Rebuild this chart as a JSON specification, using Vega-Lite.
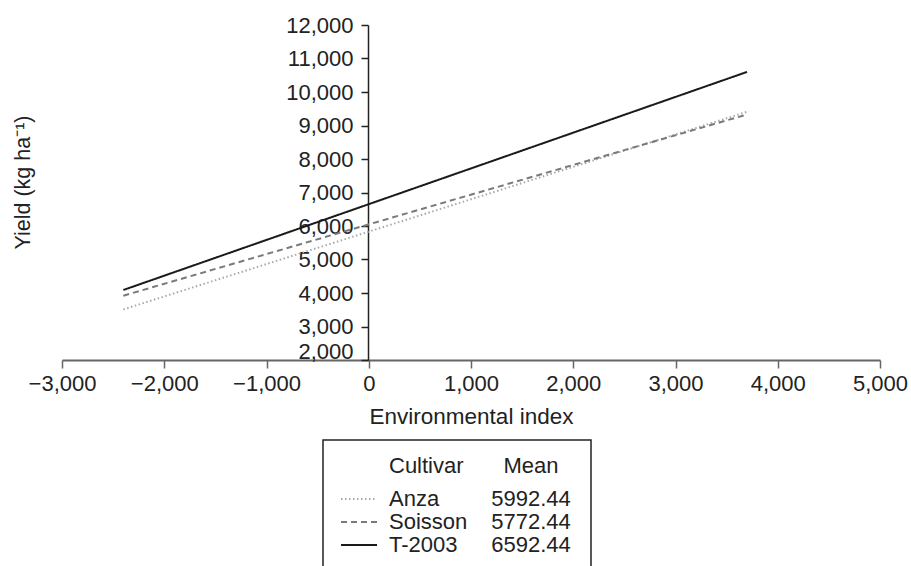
{
  "$schema": "https://vega.github.io/schema/vega-lite/v6.json",
  "padding": {"left": 12, "top": 14, "right": 0, "bottom": 0},
  "config": {"font": "Liberation Sans", "view": {"stroke": null}},
  "datasets": {
    "lines": [
      {"cultivar": "Anza", "ei": -2400, "yield": 3510},
      {"cultivar": "Anza", "ei": 3700, "yield": 9410},
      {"cultivar": "Soisson", "ei": -2400, "yield": 3920},
      {"cultivar": "Soisson", "ei": 3700, "yield": 9330},
      {"cultivar": "T-2003", "ei": -2400, "yield": 4090},
      {"cultivar": "T-2003", "ei": 3700, "yield": 10600}
    ],
    "summary": [
      {"cultivar": "Anza", "mean": 5992.44},
      {"cultivar": "Soisson", "mean": 5772.44},
      {"cultivar": "T-2003", "mean": 6592.44}
    ]
  },
  "vconcat": [
    {
      "width": 818,
      "height": 335,
      "data": {"name": "lines"},
      "mark": {"type": "line", "strokeWidth": 2},
      "encoding": {
        "x": {
          "field": "ei", "type": "quantitative",
          "scale": {"domain": [-3000, 5000], "nice": false, "zero": false},
          "axis": {
            "title": "Environmental index",
            "values": [-3000, -2000, -1000, 0, 1000, 2000, 3000, 4000, 5000],
            "format": ",.0f", "grid": false, "tickSize": 8, "tickWidth": 1.5,
            "tickColor": "#666", "domainColor": "#666", "domainWidth": 2,
            "labelFontSize": 22, "labelColor": "#222", "labelPadding": 5, "labelFlush": false,
            "titleFontSize": 22.5, "titleFontWeight": "normal", "titleColor": "#222", "titlePadding": 11
          }
        },
        "y": {
          "field": "yield", "type": "quantitative",
          "scale": {"domain": [2000, 12000], "nice": false, "zero": false},
          "axis": {
            "title": "Yield (kg ha⁻¹)",
            "offset": -306,
            "values": [2000, 3000, 4000, 5000, 6000, 7000, 8000, 9000, 10000, 11000, 12000],
            "format": ",.0f", "grid": false, "tickSize": 7, "tickWidth": 1.5,
            "tickColor": "#222", "domainColor": "#222", "domainWidth": 1.5,
            "labelFontSize": 22, "labelColor": "#222", "labelPadding": 8,
            "labelOffset": {"condition": {"test": "datum.value === 2000", "value": -9}, "value": 0},
            "titleFontSize": 21.5, "titleFontWeight": "normal", "titleColor": "#222",
            "titleX": -334, "titleY": 157
          }
        },
        "color": {
          "field": "cultivar", "type": "nominal",
          "scale": {"domain": ["Anza", "Soisson", "T-2003"], "range": ["#a8a8a8", "#7a7a7a", "#1a1a1a"]},
          "legend": null
        },
        "strokeDash": {
          "field": "cultivar", "type": "nominal",
          "scale": {"domain": ["Anza", "Soisson", "T-2003"], "range": [[1.5, 2.5], [6, 4], [1, 0]]},
          "legend": null
        }
      }
    },
    {
      "spacing": 0,
      "hconcat": [
        {
          "width": 260,
          "height": 10,
          "data": {"values": []},
          "mark": "point",
          "encoding": {}
        },
        {
          "width": 268,
          "height": 135,
          "view": {"stroke": "#222", "strokeWidth": 1.5},
          "data": {"name": "summary"},
          "encoding": {
            "y": {
              "field": "cultivar", "type": "nominal",
              "scale": {"type": "point", "domain": ["Anza", "Soisson", "T-2003"], "range": [59, 105], "padding": 0},
              "axis": null
            }
          },
          "layer": [
            {
              "mark": {"type": "rule", "xOffset": -18, "x2Offset": 18, "strokeWidth": 2},
              "encoding": {
                "x": {"datum": "sym", "type": "nominal", "scale": {"type": "point", "domain": ["sym", "Cultivar", "Mean"], "range": [36, 208], "padding": 0}, "axis": null},
                "x2": {"datum": "sym"},
                "color": {"field": "cultivar", "type": "nominal", "legend": null},
                "strokeDash": {"field": "cultivar", "type": "nominal", "legend": null}
              }
            },
            {
              "mark": {"type": "text", "align": "left", "dx": -56, "fontSize": 22, "color": "#222"},
              "encoding": {
                "x": {"datum": "Cultivar", "type": "nominal"},
                "text": {"field": "cultivar", "type": "nominal"}
              }
            },
            {
              "mark": {"type": "text", "align": "center", "fontSize": 22, "color": "#222"},
              "encoding": {
                "x": {"datum": "Mean", "type": "nominal"},
                "text": {"field": "mean", "type": "quantitative", "format": ".2f"}
              }
            },
            {
              "data": {"values": [{"h": "Cultivar"}]},
              "mark": {"type": "text", "align": "left", "dx": -56, "dy": -33.5, "fontSize": 22, "color": "#222"},
              "encoding": {
                "x": {"field": "h", "type": "nominal"},
                "y": {"datum": "Anza", "type": "nominal"},
                "text": {"field": "h", "type": "nominal"}
              }
            },
            {
              "data": {"values": [{"h": "Mean"}]},
              "mark": {"type": "text", "align": "center", "dy": -33.5, "fontSize": 22, "color": "#222"},
              "encoding": {
                "x": {"field": "h", "type": "nominal"},
                "y": {"datum": "Anza", "type": "nominal"},
                "text": {"field": "h", "type": "nominal"}
              }
            }
          ]
        }
      ]
    }
  ],
  "spacing": 11
}
